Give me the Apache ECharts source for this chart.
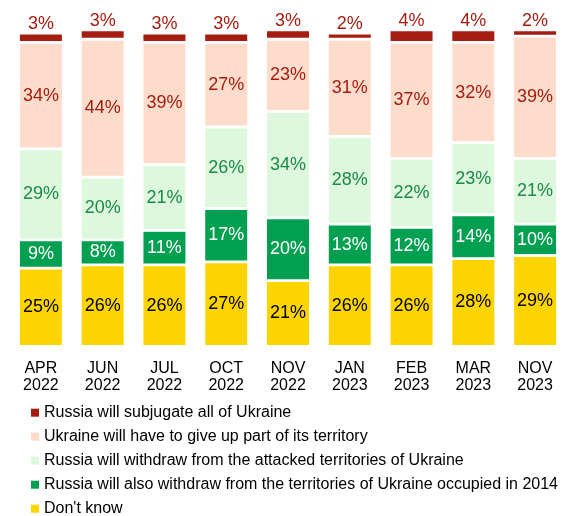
<!DOCTYPE html>
<html>
<head>
<meta charset="utf-8">
<script src="https://cdn.jsdelivr.net/npm/echarts@6/dist/echarts.min.js"></script>
<style>
  html, body { margin: 0; padding: 0; background: #fff; }
  #chart { width: 570px; height: 516px; }
</style>
</head>
<body>
<div id="chart"></div>
<script>
// Survey waves (x axis), two-line labels
const waves = ['APR\n2022', 'JUN\n2022', 'JUL\n2022', 'OCT\n2022', 'NOV\n2022',
               'JAN\n2023', 'FEB\n2023', 'MAR\n2023', 'NOV\n2023'];

// Answer shares, % of respondents (stacked bottom to top)
const dontKnow         = [25, 26, 26, 27, 21, 26, 26, 28, 29];
const withdraw2014     = [9, 8, 11, 17, 20, 13, 12, 14, 10];
const withdrawAttacked = [29, 20, 21, 26, 34, 28, 22, 23, 21];
const giveUpPart       = [34, 44, 39, 27, 23, 31, 37, 32, 39];
const subjugate        = [3, 3, 3, 3, 3, 2, 4, 4, 2];

const names = {
  subjugate: 'Russia will subjugate all of Ukraine',
  giveUp: 'Ukraine will have to give up part of its territory',
  attacked: 'Russia will withdraw from the attacked territories of Ukraine',
  y2014: 'Russia will also withdraw from the territories of Ukraine occupied in 2014',
  dontKnow: "Don't know"
};

const FONT = '"Liberation Sans", Arial, sans-serif';

function barSeries(name, data, fill, labelColor, labelPos) {
  return {
    name: name,
    type: 'bar',
    stack: 'total',
    data: data,
    barWidth: 44.8,
    clip: false,
    itemStyle: { color: fill, borderColor: '#fff', borderWidth: 1.4 },
    label: {
      show: true,
      position: labelPos,
      distance: 0,
      color: labelColor,
      fontFamily: FONT,
      fontSize: 18,
      formatter: p => p.value + '%'
    }
  };
}

const chart = echarts.init(document.getElementById('chart'), null, { renderer: 'canvas' });
chart.setOption({
  backgroundColor: '#fff',
  animation: false,
  grid: { left: 10, right: 4, top: 33, bottom: 169.6 },
  xAxis: {
    type: 'category',
    data: waves,
    axisLine: { show: false },
    axisTick: { show: false },
    axisLabel: {
      color: '#000',
      fontFamily: FONT,
      fontSize: 16,
      lineHeight: 17,
      margin: 14,
      interval: 0
    }
  },
  yAxis: {
    type: 'value',
    min: 0,
    max: 100,
    show: false,
    splitLine: { show: false }
  },
  legend: {
    orient: 'vertical',
    left: 31,
    top: 404.7,
    height: 140,
    padding: 0,
    itemWidth: 8,
    itemHeight: 8,
    itemGap: 8,
    itemTextGap: 5,
    icon: 'rect',
    itemStyle: { borderWidth: 0 },
    textStyle: { color: '#000', fontFamily: FONT, fontSize: 16 },
    data: [names.subjugate, names.giveUp, names.attacked, names.y2014, names.dontKnow]
  },
  series: [
    barSeries(names.dontKnow, dontKnow, '#FCD500', '#000', 'inside'),
    barSeries(names.y2014, withdraw2014, '#00A050', '#fff', 'inside'),
    barSeries(names.attacked, withdrawAttacked, '#DDF8DD', '#1B8A48', 'inside'),
    barSeries(names.giveUp, giveUpPart, '#FDDCCB', '#A51C11', 'inside'),
    barSeries(names.subjugate, subjugate, '#A51C11', '#A51C11', 'top')
  ]
});
</script>
</body>
</html>
